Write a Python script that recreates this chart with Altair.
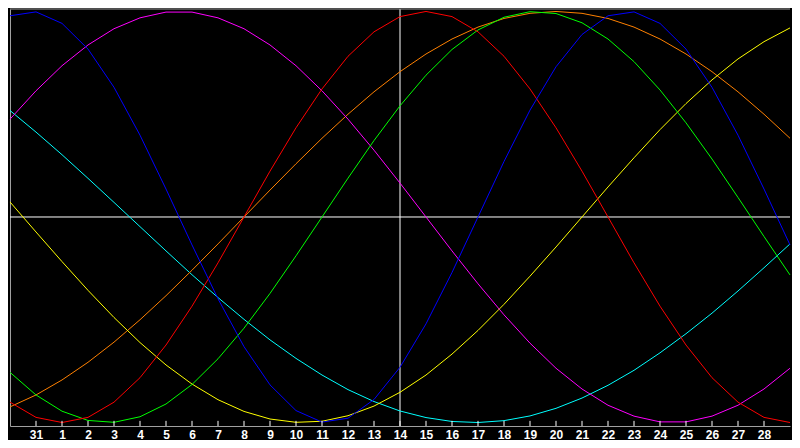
import altair as alt
import pandas as pd

# day index along the x axis (0 = left edge, 30 = right edge)
day_index = list(range(31))
# tick positions and their day-of-month labels
tick_positions = list(range(1, 30))
tick_labels = ["31", "1", "2", "3", "4", "5", "6", "7", "8", "9", "10", "11", "12", "13",
               "14", "15", "16", "17", "18", "19", "20", "21", "22", "23", "24", "25",
               "26", "27", "28"]
today_index = [15]

series_names = ["Spiritual", "Awareness", "Aesthetic", "Intuitive", "Intellectual", "Emotional", "Physical"]
series_colors = ["#00ffff", "#ff8000", "#ffff00", "#ff00ff", "#00ff00", "#ff0000", "#0000ff"]

physical = [0.979, 0.998, 0.942, 0.817, 0.631, 0.398, 0.136, -0.136, -0.398, -0.631, -0.817,
            -0.942, -0.998, -0.979, -0.888, -0.731, -0.520, -0.270, 0.000, 0.270, 0.520,
            0.731, 0.888, 0.979, 0.998, 0.942, 0.817, 0.631, 0.398, 0.136, -0.136]
emotional = [-0.901, -0.975, -1.000, -0.975, -0.901, -0.782, -0.623, -0.434, -0.223, 0.000,
             0.223, 0.434, 0.623, 0.782, 0.901, 0.975, 1.000, 0.975, 0.901, 0.782, 0.623,
             0.434, 0.223, 0.000, -0.223, -0.434, -0.623, -0.782, -0.901, -0.975, -1.000]
intellectual = [-0.756, -0.866, -0.945, -0.990, -0.999, -0.972, -0.910, -0.815, -0.690, -0.541,
                -0.372, -0.189, 0.000, 0.189, 0.372, 0.541, 0.690, 0.815, 0.910, 0.972, 0.999,
                0.990, 0.945, 0.866, 0.756, 0.618, 0.458, 0.282, 0.095, -0.095, -0.282]
intuitive = [0.476, 0.614, 0.736, 0.837, 0.916, 0.969, 0.997, 0.997, 0.969, 0.916, 0.837,
             0.736, 0.614, 0.476, 0.325, 0.165, 0.000, -0.165, -0.325, -0.476, -0.614,
             -0.736, -0.837, -0.916, -0.969, -0.997, -0.997, -0.969, -0.916, -0.837, -0.736]
aesthetic = [0.073, -0.073, -0.217, -0.357, -0.489, -0.611, -0.720, -0.813, -0.889, -0.946,
             -0.983, -0.999, -0.994, -0.967, -0.920, -0.853, -0.769, -0.667, -0.552, -0.425,
             -0.288, -0.146, 0.000, 0.146, 0.288, 0.425, 0.552, 0.667, 0.769, 0.853, 0.920]
awareness = [-0.924, -0.866, -0.793, -0.707, -0.609, -0.500, -0.383, -0.259, -0.131, 0.000,
             0.131, 0.259, 0.383, 0.500, 0.609, 0.707, 0.793, 0.866, 0.924, 0.966, 0.991,
             1.000, 0.991, 0.966, 0.924, 0.866, 0.793, 0.707, 0.609, 0.500, 0.383]
spiritual = [0.518, 0.413, 0.303, 0.188, 0.071, -0.047, -0.165, -0.281, -0.392, -0.498,
             -0.598, -0.688, -0.769, -0.840, -0.898, -0.944, -0.976, -0.995, -1.000, -0.991,
             -0.968, -0.931, -0.881, -0.819, -0.746, -0.661, -0.568, -0.468, -0.360, -0.247,
             -0.131]

series_values = [spiritual, awareness, aesthetic, intuitive, intellectual, emotional, physical]

rows = []
for name, vals in zip(series_names, series_values):
    for t, v in zip(day_index, vals):
        rows.append({"t": t, "v": v, "series": name})
df = pd.DataFrame(rows)

YMIN, YMAX = -1.017, 1.012
GRAY = "#a0a0a0"

label_array = "[" + ",".join("'" + s + "'" for s in tick_labels) + "]"

x_scale = alt.Scale(domain=[0, 30], nice=False, zero=False)
y_scale = alt.Scale(domain=[YMIN, YMAX], nice=False, zero=False)

x_axis = alt.Axis(values=tick_positions, labelExpr=label_array + "[datum.value - 1]",
                  tickSize=0, ticks=False, grid=False, title=None,
                  labelColor="white", labelFont="Liberation Sans", labelFontWeight="bold",
                  labelFontSize=12, labelPadding=3, labelFlush=False, labelOverlap=False,
                  domainColor=GRAY, domainWidth=1)
y_axis = alt.Axis(labels=False, ticks=False, grid=False, title=None,
                  domainColor=GRAY, domainWidth=1)

x_enc = alt.X("t:Q", scale=x_scale, axis=x_axis)
y_enc = alt.Y("v:Q", scale=y_scale, axis=y_axis)

zero_line = alt.Chart(pd.DataFrame({"v": [0.0]})).mark_rule(color="white", strokeWidth=1).encode(
    y=y_enc)
today_line = alt.Chart(pd.DataFrame({"t": today_index})).mark_rule(color="white", strokeWidth=1).encode(
    x=x_enc)
top_border = alt.Chart(pd.DataFrame({"v": [YMAX]})).mark_rule(color=GRAY, strokeWidth=1).encode(
    y=y_enc)
ticks = alt.Chart(pd.DataFrame({"t": tick_positions})).mark_rule(color="white", strokeWidth=1).encode(
    x=x_enc, y=alt.datum(YMIN), y2=alt.datum(YMIN + 0.025))

lines = alt.Chart(df).mark_line(strokeWidth=1).encode(
    x=x_enc,
    y=y_enc,
    color=alt.Color("series:N", scale=alt.Scale(domain=series_names, range=series_colors), legend=None),
    order=alt.Order("t:Q"),
)

chart = alt.layer(zero_line, today_line, lines, ticks, top_border).properties(
    width=784, height=432,
    autosize=alt.AutoSizeParams(type="fit", contains="padding"),
    padding=0,
    background="black",
).configure_view(stroke=None, fill="black")

chart.save("out.html", embed_options={"renderer": "svg", "actions": False})
